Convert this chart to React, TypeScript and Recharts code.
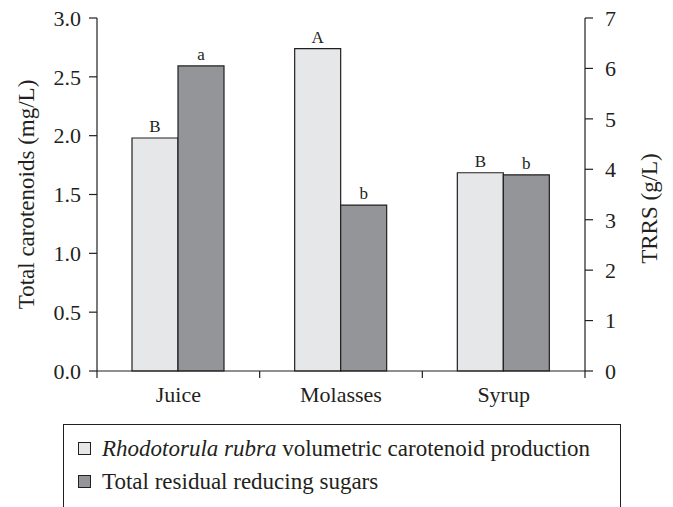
import React from "react"
import { Bar, BarChart, LabelList, Legend, XAxis, YAxis } from "recharts"

const categories = ["Juice", "Molasses", "Syrup"]
const carotenoids = [1.98, 2.74, 1.685]
const trrs = [6.05, 3.29, 3.89]
const carotenoidLetters = ["B", "A", "B"]
const trrsLetters = ["a", "b", "b"]
const leftTicks = [0, 0.5, 1, 1.5, 2, 2.5, 3]
const rightTicks = [0, 1, 2, 3, 4, 5, 6, 7]

const INK = "#231f20"
const LIGHT = "#e6e7e8"
const DARK = "#939598"
const FONT = "'Liberation Serif', 'Times New Roman', serif"

const data = categories.map((name, i) => ({
    name,
    car: carotenoids[i],
    trrs: trrs[i],
    carLetter: carotenoidLetters[i],
    trrsLetter: trrsLetters[i],
}))

function CategoryTick(props: any) {
    const { x, y, payload, index, visibleTicksCount } = props
    const half = payload?.offset ?? 81
    const last = index === (visibleTicksCount ?? categories.length) - 1
    return (
        <g>
            <line x1={x - half} y1={y} x2={x - half} y2={y + 7} stroke={INK} strokeWidth={1.2} />
            {last && <line x1={x + half} y1={y} x2={x + half} y2={y + 7} stroke={INK} strokeWidth={1.2} />}
            <text x={x} y={y + 31} textAnchor="middle" fill={INK} fontSize={22} fontFamily={FONT}>
                {payload.value}
            </text>
        </g>
    )
}

function LegendBox(props: any) {
    const items = props.payload || []
    return (
        <div
            style={{
                border: `1px solid ${INK}`,
                borderBottom: "none",
                width: 558,
                height: 90,
                boxSizing: "border-box",
                padding: "7px 0 0 14px",
                fontFamily: FONT,
                fontSize: 23,
                color: INK,
            }}
        >
            {items.map((it: any, i: number) => (
                <div key={i} style={{ display: "flex", alignItems: "center", height: 33 }}>
                    <span
                        style={{
                            display: "inline-block",
                            width: 11,
                            height: 11,
                            background: it.color,
                            border: `1px solid ${INK}`,
                            marginRight: 11,
                        }}
                    />
                    {i === 0 ? (
                        <span>
                            <i>Rhodotorula rubra</i> volumetric carotenoid production
                        </span>
                    ) : (
                        <span>{it.value}</span>
                    )}
                </div>
            ))}
        </div>
    )
}

export default function App() {
    return (
        <div style={{ position: "absolute", left: 0, top: 0, width: 673, height: 507, background: "#fff" }}>
            <BarChart
                width={673}
                height={507}
                data={data}
                margin={{ top: 18, right: 0, left: 0, bottom: 100 }}
                barGap={0}
                barSize={46}
            >
                <XAxis
                    dataKey="name"
                    height={36}
                    axisLine={{ stroke: INK, strokeWidth: 1.2 }}
                    tickLine={false}
                    tickSize={0}
                    tickMargin={0}
                    tick={<CategoryTick />}
                    interval={0}
                />
                <YAxis
                    yAxisId="left"
                    width={97}
                    domain={[0, 3]}
                    ticks={leftTicks}
                    tickFormatter={(v: number) => v.toFixed(1)}
                    axisLine={{ stroke: INK, strokeWidth: 1.2 }}
                    tickLine={{ stroke: INK, strokeWidth: 1.2 }}
                    tickSize={8}
                    tickMargin={8}
                    tick={{ fill: INK, fontSize: 22, fontFamily: FONT }}
                    label={{
                        value: "Total carotenoids (mg/L)",
                        angle: -90,
                        position: "center",
                        dx: -23,
                        fill: INK,
                        fontSize: 23,
                        fontFamily: FONT,
                    }}
                />
                <YAxis
                    yAxisId="right"
                    orientation="right"
                    width={88}
                    domain={[0, 7]}
                    ticks={rightTicks}
                    axisLine={{ stroke: INK, strokeWidth: 1.2 }}
                    tickLine={{ stroke: INK, strokeWidth: 1.2 }}
                    tickSize={8}
                    tickMargin={12}
                    tick={{ fill: INK, fontSize: 22, fontFamily: FONT }}
                    label={{
                        value: "TRRS (g/L)",
                        angle: -90,
                        position: "center",
                        dx: 20,
                        dy: 14,
                        fill: INK,
                        fontSize: 23,
                        fontFamily: FONT,
                    }}
                />
                <Legend
                    layout="vertical"
                    align="center"
                    verticalAlign="middle"
                    wrapperStyle={{ left: 63, top: 424, width: 560 }}
                    content={<LegendBox />}
                />
                <Bar
                    yAxisId="left"
                    dataKey="car"
                    name="Rhodotorula rubra volumetric carotenoid production"
                    fill={LIGHT}
                    stroke={INK}
                    strokeWidth={1.2}
                    isAnimationActive={false}
                >
                    <LabelList dataKey="carLetter" position="top" offset={6} fill={INK} fontSize={17} fontFamily={FONT} />
                </Bar>
                <Bar
                    yAxisId="right"
                    dataKey="trrs"
                    name="Total residual reducing sugars"
                    fill={DARK}
                    stroke={INK}
                    strokeWidth={1.2}
                    isAnimationActive={false}
                >
                    <LabelList dataKey="trrsLetter" position="top" offset={6} fill={INK} fontSize={17} fontFamily={FONT} />
                </Bar>
            </BarChart>
        </div>
    )
}
